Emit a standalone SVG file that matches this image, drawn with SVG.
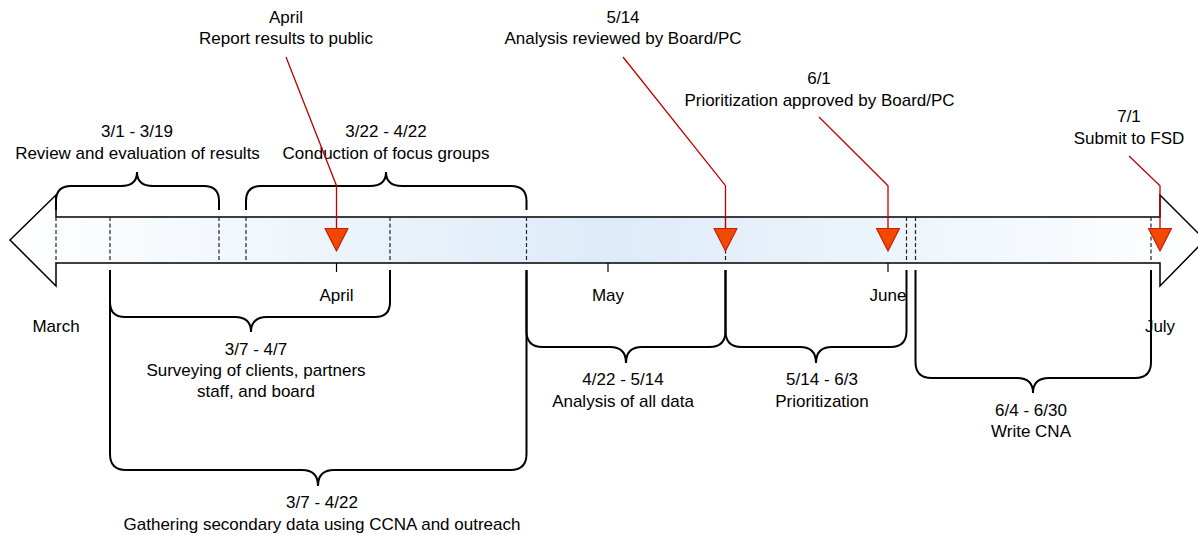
<svg xmlns="http://www.w3.org/2000/svg" width="1198" height="535" viewBox="0 0 1198 535">
<defs>
<linearGradient id="barGrad" gradientUnits="userSpaceOnUse" x1="10" y1="0" x2="1205" y2="0">
<stop offset="0" stop-color="#ffffff"/>
<stop offset="0.5" stop-color="#ddebf8"/>
<stop offset="1" stop-color="#ffffff"/>
</linearGradient>
</defs>
<style>
text{font-family:"Liberation Sans",Arial,sans-serif;font-size:17px;fill:#000;text-anchor:middle}
.bar{fill:url(#barGrad);stroke:#000;stroke-width:1.5;stroke-linejoin:miter}
.dash{stroke:#222;stroke-width:1.2;stroke-dasharray:4 2.5;fill:none}
.tick{stroke:#000;stroke-width:1.2}
.brace{fill:none;stroke:#000;stroke-width:2}
.conn{fill:none;stroke:#c00000;stroke-width:1.3}
.tri{fill:#f24800;stroke:#c0200a;stroke-width:1.2;stroke-linejoin:round}
</style>

<g id="timeline">
<path class="bar" d="M10,240 L56,195 L56,217 L1160,217 L1160,195 L1205,240 L1160,286 L1160,263 L56,263 L56,286 Z"/>
<path class="dash" d="M56,217V263 M110,217V263 M219,217V263 M246,217V263 M390,217V263 M526.5,217V263 M725.5,217V263 M906.5,217V263 M915.5,217V263 M1151,217V263"/>
<path class="tick" d="M336.5,263V272 M608,263V272 M888,263V272"/>
</g>

<g id="months">
<text x="56" y="331.7">March</text>
<text x="336.5" y="300.7">April</text>
<text x="608" y="300.7">May</text>
<text x="888" y="300.7">June</text>
<text x="1160" y="331.7">July</text>
</g>

<g id="phase-review">
<path class="brace" d="M56,210 V201 Q56,186 71,186 H121 Q137,186 137,172 Q137,186 153,186 H204 Q219,186 219,201 V210"/>
<text x="137" y="137.3">3/1 - 3/19</text>
<text x="137.5" y="159">Review and evaluation of results</text>
</g>

<g id="phase-focus">
<path class="brace" d="M246,210 V201 Q246,186 261,186 H370 Q386,186 386,172 Q386,186 402,186 H511 Q526.5,186 526.5,201 V210"/>
<text x="386" y="137.3">3/22 - 4/22</text>
<text x="386" y="159">Conduction of focus groups</text>
</g>

<g id="phase-survey">
<path class="brace" d="M110,270 V302 Q110,317 125,317 H235 Q251,317 251,332 Q251,317 267,317 H375 Q390,317 390,302 V270"/>
<text x="256" y="354.5">3/7 - 4/7</text>
<text x="256" y="376">Surveying of clients, partners</text>
<text x="256" y="397">staff, and board</text>
</g>

<g id="phase-gathering">
<path class="brace" d="M110,270 V454 Q110,470 126,470 H302 Q318,470 318,486 Q318,470 334,470 H510.5 Q526.5,470 526.5,454 V270"/>
<text x="322" y="508.3">3/7 - 4/22</text>
<text x="322" y="530">Gathering secondary data using CCNA and outreach</text>
</g>

<g id="phase-analysis">
<path class="brace" d="M526.5,270 V331 Q526.5,347 542.5,347 H610 Q626,347 626,363 Q626,347 642,347 H709.5 Q725.5,347 725.5,331 V270"/>
<text x="623" y="385">4/22 - 5/14</text>
<text x="623" y="406.7">Analysis of all data</text>
</g>

<g id="phase-prioritization">
<path class="brace" d="M725.5,270 V331 Q725.5,347 741.5,347 H800 Q816,347 816,363 Q816,347 832,347 H890.5 Q906.5,347 906.5,331 V270"/>
<text x="822" y="385">5/14 - 6/3</text>
<text x="822" y="406.7">Prioritization</text>
</g>

<g id="phase-write">
<path class="brace" d="M915.5,270 V362 Q915.5,378 931.5,378 H1017 Q1033,378 1033,393 Q1033,378 1049,378 H1135 Q1151,378 1151,362 V270"/>
<text x="1031" y="416">6/4 - 6/30</text>
<text x="1031" y="437.3">Write CNA</text>
</g>

<g id="connectors">
<polyline class="conn" points="286,57 336.5,185.7 336.5,228"/>
<polyline class="conn" points="623,57 725.5,185.7 725.5,228"/>
<polyline class="conn" points="819,117 888,185.7 888,228"/>
<polyline class="conn" points="1129,156 1160,185.7 1160,228"/>
</g>

<g id="milestone-april">
<text x="286" y="22.7">April</text>
<text x="286" y="44">Report results to public</text>
<polygon class="tri" points="325,228.5 348,228.5 336.5,251"/>
</g>

<g id="milestone-review">
<text x="623" y="22.7">5/14</text>
<text x="623" y="44">Analysis reviewed by Board/PC</text>
<polygon class="tri" points="714,228.5 737,228.5 725.5,251"/>
</g>

<g id="milestone-approve">
<text x="819" y="84">6/1</text>
<text x="819.5" y="106">Prioritization approved by Board/PC</text>
<polygon class="tri" points="876.5,228.5 899.5,228.5 888,251"/>
</g>

<g id="milestone-submit">
<text x="1129" y="122.3">7/1</text>
<text x="1129" y="144">Submit to FSD</text>
<polygon class="tri" points="1148.5,228.5 1171.5,228.5 1160,251"/>
</g>
</svg>
